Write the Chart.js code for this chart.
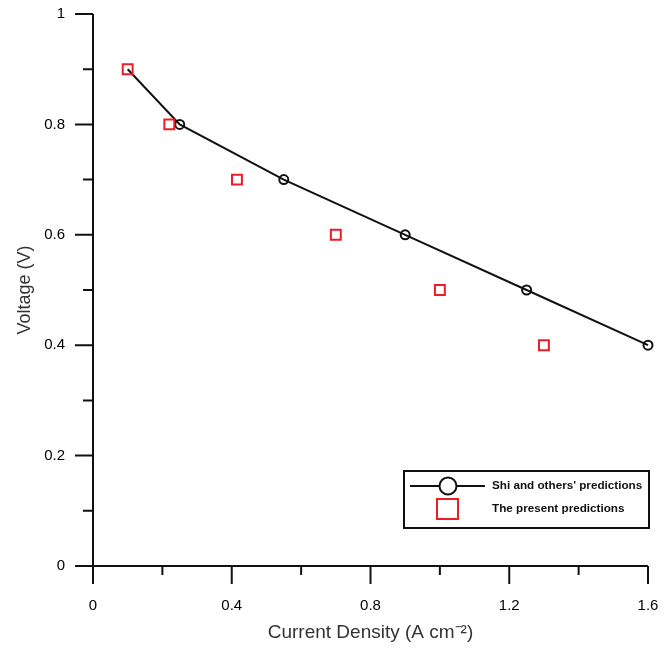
<!DOCTYPE html>
<html>
<head>
<meta charset="utf-8">
<script src="https://cdn.jsdelivr.net/npm/chart.js@4"></script>
<style>
  html, body { margin: 0; padding: 0; background: #fff; }
  #wrap { width: 672px; height: 653px; }
</style>
</head>
<body>
<div id="wrap"><canvas id="iv-chart"></canvas></div>
<script>
// data
const shiCurrent = [0.1, 0.25, 0.55, 0.9, 1.25, 1.6];
const shiVoltage = [0.9, 0.8, 0.7, 0.6, 0.5, 0.4];
const presentCurrent = [0.1, 0.22, 0.415, 0.7, 1.0, 1.3];
const presentVoltage = [0.9, 0.8, 0.7, 0.6, 0.5, 0.4];

const xTicks = [0, 0.4, 0.8, 1.2, 1.6];
const xTickLabels = ['0', '0.4', '0.8', '1.2', '1.6'];
const yTicks = [0, 0.2, 0.4, 0.6, 0.8, 1];
const yTickLabels = ['0', '0.2', '0.4', '0.6', '0.8', '1'];

const seriesNames = ["Shi and others' predictions", 'The present predictions'];

const FONT = "'Liberation Sans', Arial, sans-serif";
const RED = '#ee1c24';
const INK = '#111111';

//axis lines + major/minor ticks (drawn outside the plot)
const axisTicks = {
    id: 'axisTicks',
    afterDraw: (chart) => {
        const {ctx, chartArea: {top, bottom, left, right}, scales: {x, y}} = chart;
        ctx.save();
        ctx.strokeStyle = INK;
        ctx.lineWidth = 2;
        ctx.lineCap = 'butt';

        ctx.beginPath();
        ctx.moveTo(left, top);
        ctx.lineTo(left, bottom);
        ctx.moveTo(left, bottom);
        ctx.lineTo(right, bottom);
        ctx.stroke();

        ctx.beginPath();
        xTicks.forEach((v, i) => {
            const px = x.getPixelForValue(v);
            ctx.moveTo(px, bottom);
            ctx.lineTo(px, bottom + 18);
            if (i < xTicks.length - 1) {
                const mx = x.getPixelForValue((v + xTicks[i + 1]) / 2);
                ctx.moveTo(mx, bottom);
                ctx.lineTo(mx, bottom + 9);
            }
        });
        yTicks.forEach((v, i) => {
            const py = y.getPixelForValue(v);
            ctx.moveTo(left, py);
            ctx.lineTo(left - 18, py);
            if (i < yTicks.length - 1) {
                const my = y.getPixelForValue((v + yTicks[i + 1]) / 2);
                ctx.moveTo(left, my);
                ctx.lineTo(left - 10, my);
            }
        });
        ctx.stroke();
        ctx.restore();
    }
}

//boxed legend, bottom right of the plot
const boxLegend = {
    id: 'boxLegend',
    afterDraw: (chart) => {
        const {ctx} = chart;
        const bx = 404, by = 471, bw = 245, bh = 57;
        ctx.save();
        ctx.fillStyle = '#ffffff';
        ctx.fillRect(bx, by, bw, bh);
        ctx.strokeStyle = INK;
        ctx.lineWidth = 2;
        ctx.strokeRect(bx, by, bw, bh);

        const r1 = by + 15, r2 = by + 38;
        ctx.beginPath();
        ctx.moveTo(bx + 6, r1);
        ctx.lineTo(bx + 81, r1);
        ctx.stroke();
        ctx.beginPath();
        ctx.arc(bx + 44, r1, 8.5, 0, Math.PI * 2);
        ctx.fillStyle = '#ffffff';
        ctx.fill();
        ctx.stroke();

        ctx.strokeStyle = RED;
        ctx.strokeRect(bx + 33, r2 - 10, 21, 20);

        ctx.fillStyle = INK;
        ctx.font = 'bold 11.7px ' + FONT;
        ctx.textBaseline = 'middle';
        ctx.textAlign = 'left';
        ctx.fillText(seriesNames[0], bx + 88, r1);
        ctx.fillText(seriesNames[1], bx + 88, r2);
        ctx.restore();
    }
}

const ctx = document.getElementById('iv-chart');

Chart.defaults.font.family = FONT;
Chart.defaults.color = '#222222';

new Chart(ctx, {
    type: 'scatter',
    data: {
        datasets: [{
            label: seriesNames[0],
            data: shiCurrent.map((c, i) => ({x: c, y: shiVoltage[i]})),
            showLine: true,
            clip: false,
            borderColor: INK,
            borderWidth: 2,
            backgroundColor: 'rgba(0,0,0,0)',
            pointStyle: 'circle',
            pointRadius: shiCurrent.map((c, i) => i === 0 ? 0 : 4.5),
            pointBorderWidth: 2,
            pointBorderColor: INK,
            order: 2
        }, {
            label: seriesNames[1],
            data: presentCurrent.map((c, i) => ({x: c, y: presentVoltage[i]})),
            showLine: false,
            clip: false,
            borderColor: RED,
            backgroundColor: 'rgba(0,0,0,0)',
            pointStyle: 'rect',
            pointRadius: 7,
            pointBorderWidth: 2,
            order: 1
        }]
    },
    options: {
        responsive: true,
        maintainAspectRatio: false,
        animation: false,
        layout: {
            padding: {top: 14, right: 24, left: 5, bottom: 4}
        },
        scales: {
            x: {
                type: 'linear',
                min: 0,
                max: 1.6,
                afterBuildTicks: (s) => { s.ticks = xTicks.map(v => ({value: v})); },
                afterFit: (s) => {
                    s.height = 653 - 566 - 4;
                    s.paddingLeft = 0;
                    s.paddingRight = 0;
                },
                border: {display: false},
                grid: {display: false, drawTicks: false},
                ticks: {
                    padding: 31,
                    maxRotation: 0,
                    font: {size: 15},
                    color: '#000',
                    callback: (v, i) => xTickLabels[i]
                },
                title: {
                    display: true,
                    text: 'Current Density (A cm\u207B\u00B2)',
                    font: {size: 19},
                    color: '#333',
                    padding: {top: 0, bottom: 5}
                }
            },
            y: {
                type: 'linear',
                min: 0,
                max: 1,
                afterBuildTicks: (s) => { s.ticks = yTicks.map(v => ({value: v})); },
                afterFit: (s) => {
                    s.width = 93 - 5;
                    s.paddingTop = 0;
                    s.paddingBottom = 0;
                },
                border: {display: false},
                grid: {display: false, drawTicks: false},
                ticks: {
                    padding: 28,
                    font: {size: 15},
                    color: '#000',
                    callback: (v, i) => yTickLabels[i]
                },
                title: {
                    display: true,
                    text: 'Voltage (V)',
                    font: {size: 18},
                    color: '#333',
                    padding: {top: 9, bottom: 0}
                }
            }
        },
        plugins: {
            legend: {display: false},
            tooltip: {enabled: false}
        }
    },
    plugins: [axisTicks, boxLegend]
});
</script>
</body>
</html>
